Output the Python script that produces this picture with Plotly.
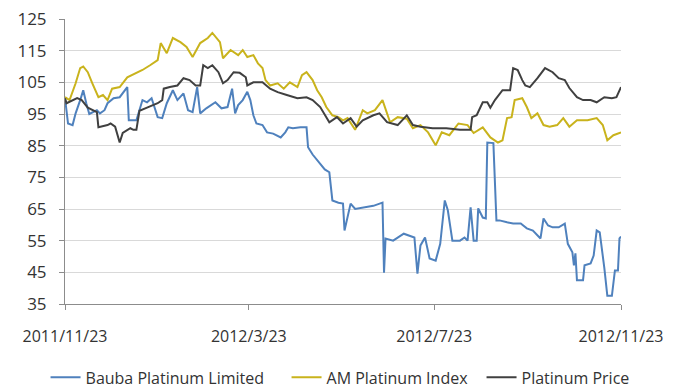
import plotly.graph_objects as go

# ---------------- data ----------------
price_dates = ["2011-11-23","2011-11-24","2011-12-01","2011-12-04","2011-12-08","2011-12-14","2011-12-15",
               "2011-12-21","2011-12-23","2011-12-26","2011-12-29","2011-12-31","2012-01-05","2012-01-07",
               "2012-01-09","2012-01-11","2012-01-16","2012-01-20","2012-01-23","2012-01-26","2012-01-27",
               "2012-01-31","2012-02-05","2012-02-09","2012-02-13","2012-02-17","2012-02-20","2012-02-22",
               "2012-02-25","2012-02-28","2012-03-03","2012-03-06","2012-03-09","2012-03-13","2012-03-17",
               "2012-03-21","2012-03-22","2012-03-26","2012-04-01","2012-04-06","2012-04-11","2012-04-17",
               "2012-04-24","2012-04-30","2012-05-04","2012-05-09","2012-05-15","2012-05-20","2012-05-24",
               "2012-05-29","2012-06-02","2012-06-06","2012-06-13","2012-06-17","2012-06-22","2012-06-29",
               "2012-07-05","2012-07-09","2012-07-14","2012-07-22","2012-07-31","2012-08-09","2012-08-16",
               "2012-08-17","2012-08-20","2012-08-24","2012-08-27","2012-08-29","2012-09-01","2012-09-06",
               "2012-09-11","2012-09-13","2012-09-16","2012-09-19","2012-09-21","2012-09-24","2012-09-29",
               "2012-10-04","2012-10-09","2012-10-13","2012-10-17","2012-10-20","2012-10-25","2012-10-29",
               "2012-11-03","2012-11-07","2012-11-12","2012-11-17","2012-11-20","2012-11-23"]
price_values = [100,98.4,100,99.4,97,95.6,90.8,
                91.5,92,91,86,89,90.5,90,
                90,96,97,97.8,98.4,99.4,103,
                103.5,104,106.3,105.7,104,104,110.4,
                109.5,110.4,108.2,104.7,105.7,108.2,108,
                106.6,104,105,105,103,101.9,101,
                100,100.3,99.4,97.2,92.4,94,92,
                93.7,91,93,94.6,95.2,92.4,91.5,
                94.6,91.5,91,90.5,90.5,90,90,
                94,94.6,98.7,98.7,97,99.4,102.5,
                102.5,109.5,108.9,105.7,104,103.5,106.3,
                109.5,108.2,106.3,105.7,103.2,100.3,99.4,
                99.4,98.7,100.3,100,100.3,103.5]

index_dates = ["2011-11-23","2011-11-26","2011-11-30","2011-12-03","2011-12-05","2011-12-08","2011-12-11",
               "2011-12-15","2011-12-18","2011-12-21","2011-12-24","2011-12-29","2012-01-03","2012-01-09",
               "2012-01-13","2012-01-18","2012-01-23","2012-01-25","2012-01-29","2012-02-02","2012-02-07",
               "2012-02-11","2012-02-15","2012-02-20","2012-02-25","2012-02-28","2012-03-04","2012-03-06",
               "2012-03-11","2012-03-16","2012-03-19","2012-03-22","2012-03-26","2012-03-29","2012-04-01",
               "2012-04-03","2012-04-06","2012-04-11","2012-04-15","2012-04-19","2012-04-24","2012-04-27",
               "2012-04-30","2012-05-04","2012-05-07","2012-05-10","2012-05-13","2012-05-17","2012-05-21",
               "2012-05-24","2012-05-27","2012-06-01","2012-06-06","2012-06-09","2012-06-14","2012-06-19",
               "2012-06-24","2012-06-29","2012-07-05","2012-07-09","2012-07-14","2012-07-19","2012-07-24",
               "2012-07-28","2012-08-02","2012-08-08","2012-08-14","2012-08-18","2012-08-24","2012-08-29",
               "2012-09-03","2012-09-06","2012-09-09","2012-09-12","2012-09-14","2012-09-19","2012-09-22",
               "2012-09-25","2012-09-29","2012-10-03","2012-10-07","2012-10-12","2012-10-16","2012-10-20",
               "2012-10-25","2012-11-01","2012-11-07","2012-11-11","2012-11-14","2012-11-18","2012-11-23"]
index_values = [100.3,99.4,104.7,109.5,110,108.2,104.7,
                100.3,101,99.4,103,103.5,106.6,108,
                108.9,110.4,112,117.4,114.2,119,117.7,
                116.2,113,117.4,119,120.6,117.7,112.6,
                115.2,113.6,115.2,113,113.6,111,109.5,
                105.7,104,104.7,103,105,103.5,107.3,
                108.2,105.7,102.5,100.3,97.2,94.6,94,
                93,93.7,90,96.2,95.2,96.2,99.4,
                92.4,94,93.5,90.5,91.5,89.2,85.1,
                89.2,88.3,92,91.5,89,90.8,87.6,
                86,86.7,93.7,94,99.4,100,97.2,
                93.7,95.2,91.5,91,91.5,93.7,91,
                93,93,93.7,91.5,86.7,88.3,89.2]

bauba_dates = ["2011-11-23","2011-11-25","2011-11-28","2011-11-30","2011-12-03","2011-12-05","2011-12-07",
               "2011-12-09","2011-12-14","2011-12-16","2011-12-19","2011-12-21","2011-12-25","2011-12-29",
               "2012-01-03","2012-01-04","2012-01-09","2012-01-13","2012-01-16","2012-01-19","2012-01-23",
               "2012-01-26","2012-01-29","2012-02-02","2012-02-05","2012-02-09","2012-02-12","2012-02-15",
               "2012-02-18","2012-02-20","2012-02-24","2012-03-01","2012-03-05","2012-03-09","2012-03-12",
               "2012-03-14","2012-03-16","2012-03-19","2012-03-22","2012-03-24","2012-03-26","2012-03-28",
               "2012-04-01","2012-04-04","2012-04-08","2012-04-13","2012-04-16","2012-04-18","2012-04-21",
               "2012-04-26","2012-04-30","2012-05-01","2012-05-04","2012-05-08","2012-05-12","2012-05-15",
               "2012-05-17","2012-05-21","2012-05-24","2012-05-25","2012-05-29","2012-06-01","2012-06-06",
               "2012-06-13","2012-06-19","2012-06-20","2012-06-21","2012-06-26","2012-07-03","2012-07-10",
               "2012-07-12","2012-07-14","2012-07-17","2012-07-20","2012-07-24","2012-07-27","2012-07-30",
               "2012-08-01","2012-08-04","2012-08-09","2012-08-12","2012-08-14","2012-08-16","2012-08-18",
               "2012-08-20","2012-08-21","2012-08-24","2012-08-26","2012-08-27","2012-08-31","2012-09-02",
               "2012-09-04","2012-09-09","2012-09-13","2012-09-18","2012-09-22","2012-09-26","2012-10-01",
               "2012-10-03","2012-10-06","2012-10-09","2012-10-13","2012-10-17","2012-10-19","2012-10-22",
               "2012-10-23","2012-10-24","2012-10-25","2012-10-29","2012-10-30","2012-11-03","2012-11-05",
               "2012-11-07","2012-11-09","2012-11-12","2012-11-14","2012-11-17","2012-11-19","2012-11-21",
               "2012-11-22","2012-11-23"]
bauba_values = [100,92,91.5,95.2,99.4,102.5,98.4,
                95,96.2,95.2,96.2,98.4,100,100.3,
                103.5,93,93,99.4,98.7,100,94,
                93.7,98.4,102.5,99.4,101.5,96.2,95.6,
                103.5,95.2,96.8,98.7,96.8,97.2,103,
                95.2,97.8,99.4,102,99.4,94.6,92,
                91.5,89.2,88.8,87.6,89.2,90.8,90.5,
                90.8,90.8,84.5,82.2,80,77.5,76.6,
                67.7,67,66.7,58.2,66.7,65,65.5,
                66,67,44.9,55.7,55,57.2,56,
                44.6,53.5,56,49.4,48.7,54,67.7,
                64.6,55,55,56,55,65.5,55,
                55,65.2,62.3,62,86,85.8,61.4,
                61.4,60.8,60.4,60.4,58.9,58.2,55.7,
                62,59.8,59.2,59.2,60.4,54,51.3,
                47.2,51,42.5,42.5,47.2,47.8,50.3,
                58.2,57.6,46.5,37.6,37.6,45.6,45.6,
                55.7,56.3]

series_names = ["Bauba Platinum Limited", "AM Platinum Index", "Platinum Price"]
series_colors = ["#4f81bd", "#c9b31c", "#404040"]

x_tick_vals = ["2011-11-23", "2012-03-23", "2012-07-23", "2012-11-23"]
x_tick_text = ["2011/11/23", "2012/3/23", "2012/7/23", "2012/11/23"]
y_ticks = [35, 45, 55, 65, 75, 85, 95, 105, 115, 125]

# ---------------- figure ----------------
FONT = "Open Sans"
legend_widths = [196, 150, 115]
fig = go.Figure()
for name, xs, ys, col, lw in [
    (series_names[0], bauba_dates, bauba_values, series_colors[0], legend_widths[0]),
    (series_names[1], index_dates, index_values, series_colors[1], legend_widths[1]),
    (series_names[2], price_dates, price_values, series_colors[2], legend_widths[2]),
]:
    fig.add_trace(go.Scatter(x=xs, y=ys, mode="lines", name=name,
                             line=dict(color=col, width=2), legendwidth=lw))

fig.update_layout(
    width=683, height=389,
    margin=dict(l=65, r=62, t=19, b=85, autoexpand=False),
    paper_bgcolor="white", plot_bgcolor="white",
    font=dict(family=FONT, size=16, color="#333333"),
    showlegend=True,
    legend=dict(orientation="h",
                x=-0.035, xanchor="left", y=-0.198, yanchor="top",
                font=dict(family=FONT, size=16, color="#333333"),
                itemwidth=30, tracegroupgap=0, entrywidthmode="pixels"),
)
fig.update_xaxes(
    type="date", range=["2011-11-23", "2012-11-23"],
    tickvals=x_tick_vals, ticktext=x_tick_text,
    showgrid=False, showline=True, linecolor="#8c8c8c", linewidth=1,
    ticks="outside", ticklen=5, tickcolor="#8c8c8c", ticklabelstandoff=13,
    tickfont=dict(family=FONT, size=16, color="#333333"), zeroline=False,
)
fig.update_yaxes(
    range=[35, 125], tickvals=y_ticks,
    showgrid=True, gridcolor="#d9d9d9", gridwidth=1,
    showline=True, linecolor="#8c8c8c", linewidth=1,
    ticks="outside", ticklen=5, tickcolor="#8c8c8c", ticklabelstandoff=9,
    tickfont=dict(family=FONT, size=17, color="#333333"), zeroline=False,
)

fig.write_html("out.html")
